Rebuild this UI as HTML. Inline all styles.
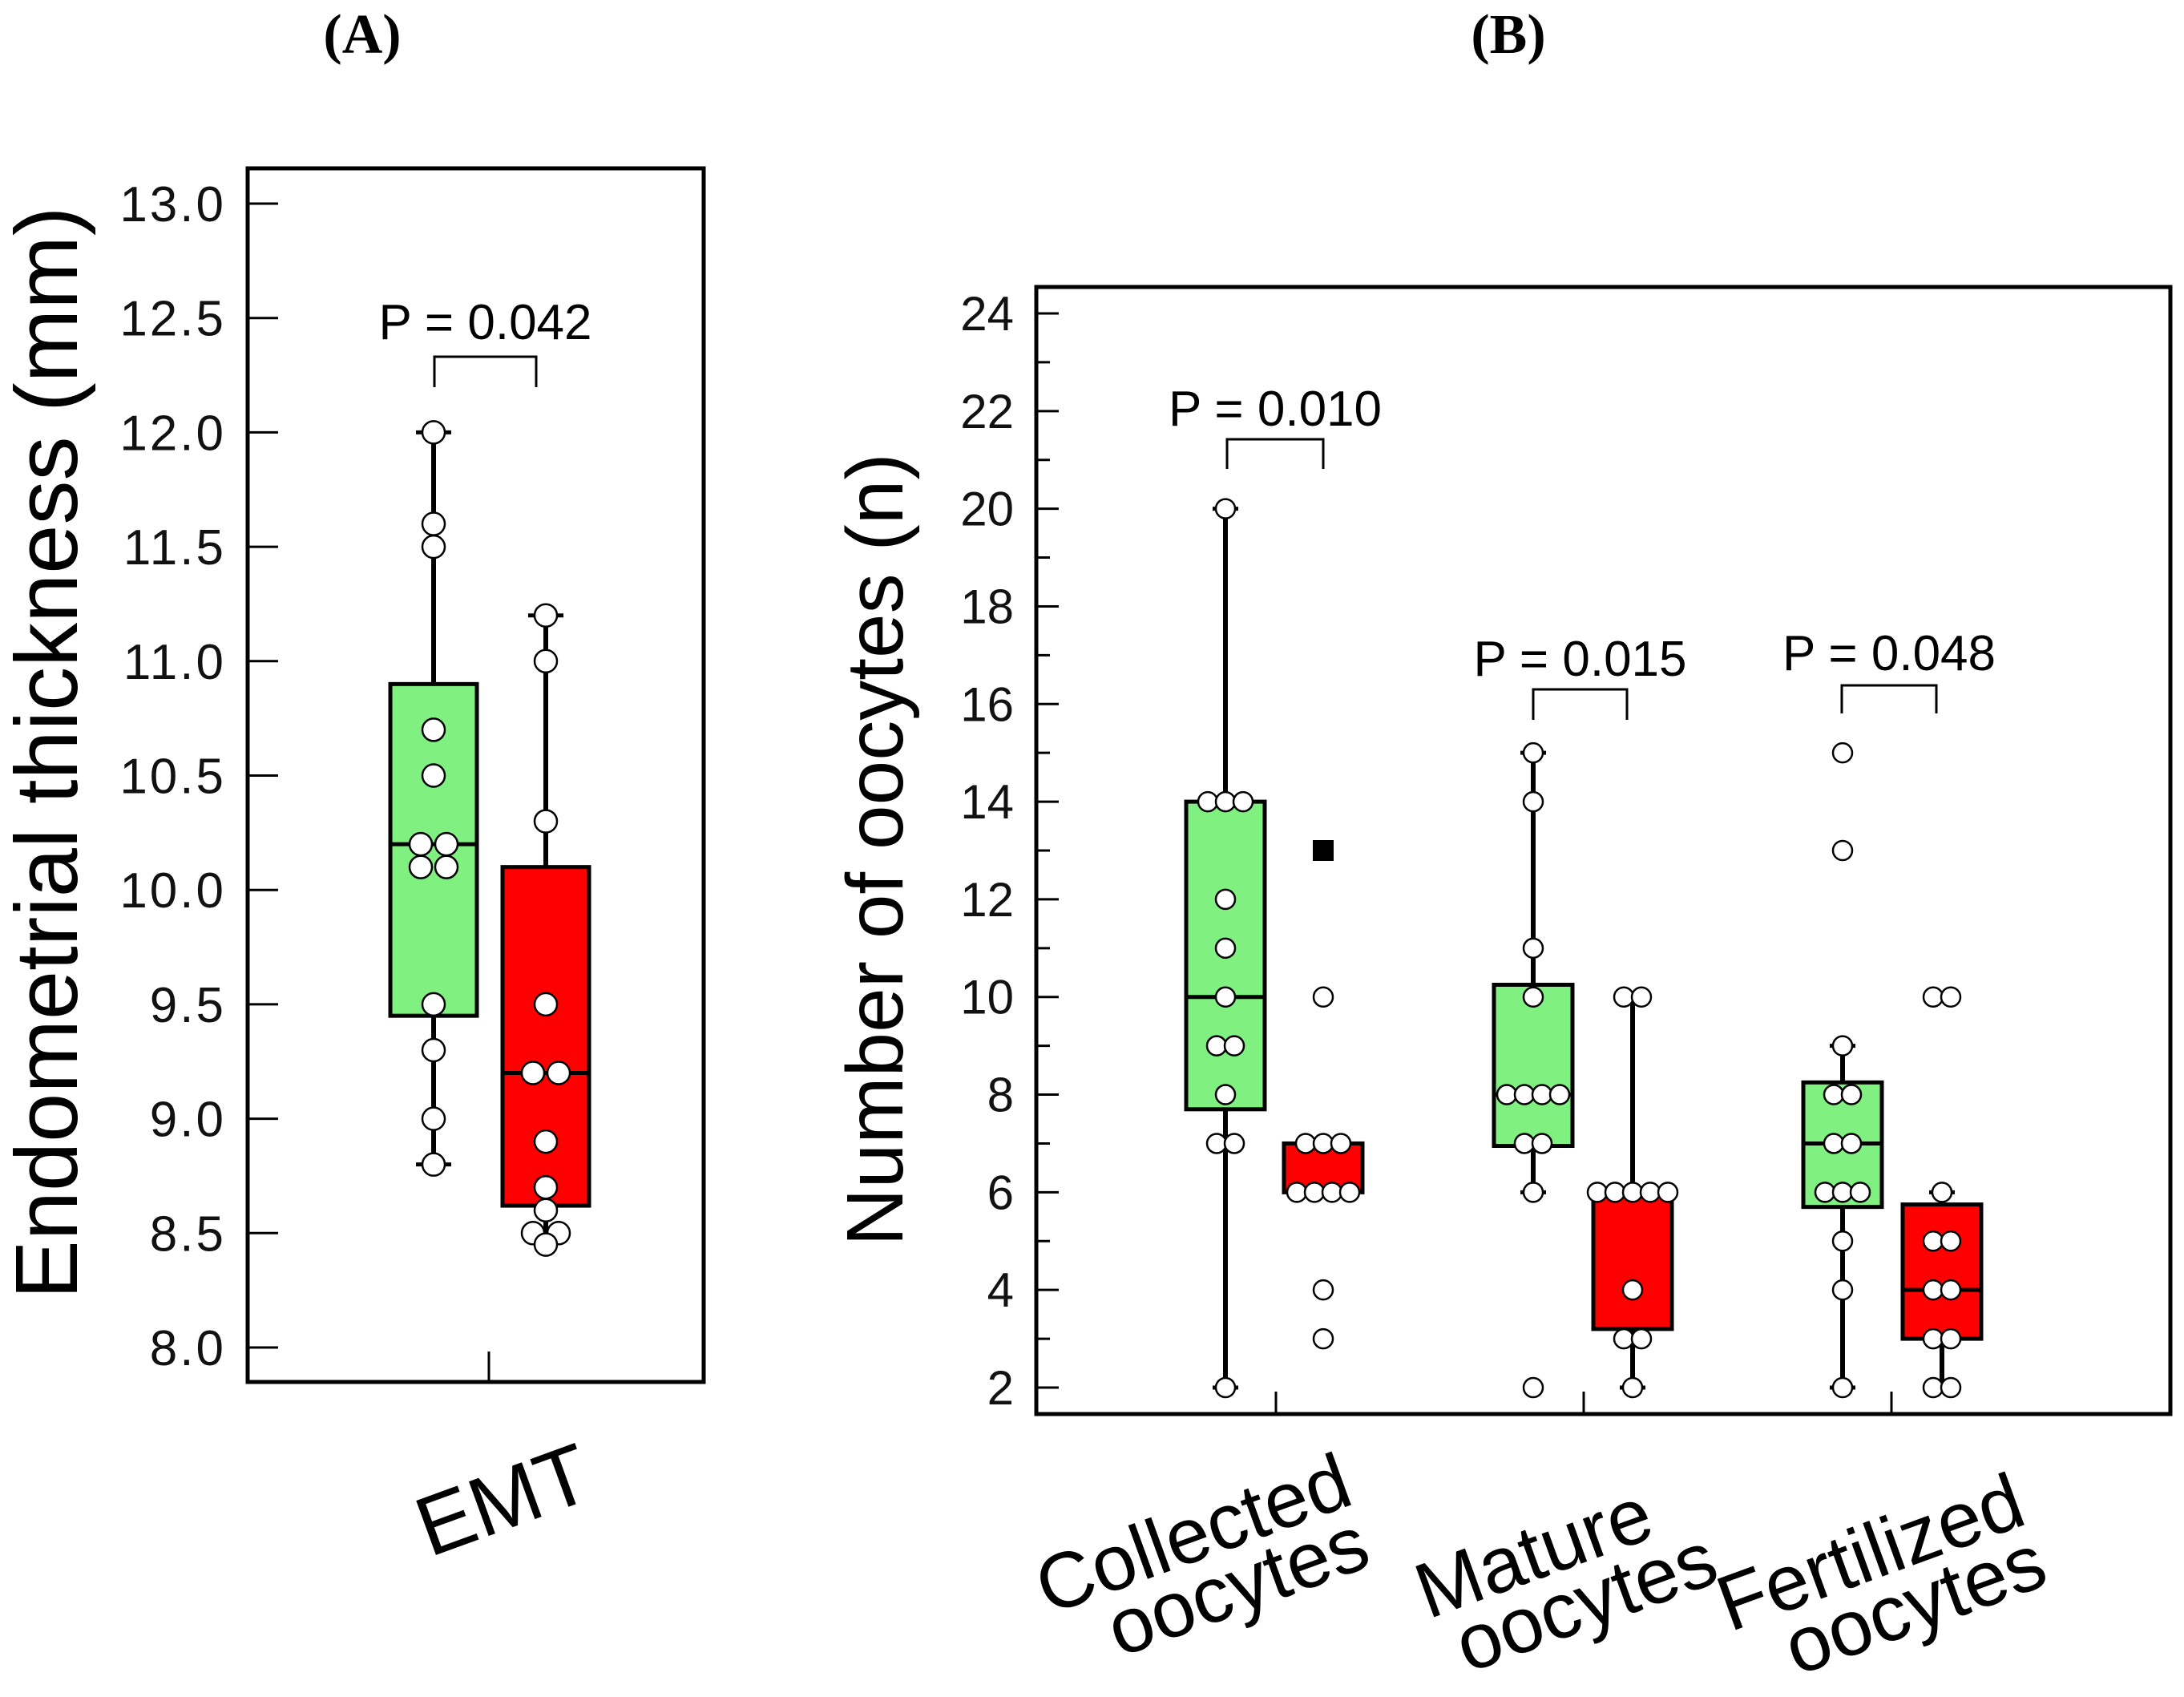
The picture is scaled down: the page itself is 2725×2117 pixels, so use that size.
<!DOCTYPE html>
<html><head><meta charset="utf-8"><style>
html,body{margin:0;padding:0;background:#fff}
svg{display:block}
text{font-family:"Liberation Sans",Arial,sans-serif}
</style></head><body>
<svg id="chart" width="2725" height="2117" viewBox="0 0 2725 2117" xmlns="http://www.w3.org/2000/svg">
<text x="452" y="66" text-anchor="middle" font-size="70" font-weight="bold" style="font-family:'Liberation Serif',serif">(A)</text>
<text x="1882" y="66" text-anchor="middle" font-size="70" font-weight="bold" style="font-family:'Liberation Serif',serif">(B)</text>
<rect x="309" y="210" width="569" height="1514" fill="none" stroke="#000" stroke-width="5"/>
<rect x="1293" y="358" width="1415" height="1406" fill="none" stroke="#000" stroke-width="5"/>
<text transform="translate(96,939) rotate(-90)" text-anchor="middle" font-size="110">Endometrial thickness (mm)</text>
<text transform="translate(1126,1060) rotate(-90)" text-anchor="middle" font-size="100">Number of oocytes (n)</text>
<text transform="translate(640,1905) rotate(-20)" text-anchor="middle" font-size="105">EMT</text>
<g transform="translate(1500,1945) rotate(-20)" font-size="98" text-anchor="middle"><text x="0" y="0">Collected</text><text x="30" y="80">oocytes</text></g>
<g transform="translate(1925,1968) rotate(-20)" font-size="98" text-anchor="middle"><text x="0" y="0">Mature</text><text x="40" y="80">oocytes</text></g>
<g transform="translate(2345,1968) rotate(-20)" font-size="98" text-anchor="middle"><text x="0" y="0">Fertilized</text><text x="30" y="80">oocytes</text></g>
<line x1="610" y1="1724" x2="610" y2="1686" stroke="#000" stroke-width="3"/>
<line x1="1592" y1="1764" x2="1592" y2="1736" stroke="#000" stroke-width="3"/>
<line x1="1976" y1="1764" x2="1976" y2="1736" stroke="#000" stroke-width="3"/>
<line x1="2360" y1="1764" x2="2360" y2="1736" stroke="#000" stroke-width="3"/>
</svg>
<script>
// Panel A data
const aTicks = [8.0,8.5,9.0,9.5,10.0,10.5,11.0,11.5,12.0,12.5,13.0];
const aGroups = ['emt-group-1','emt-group-2'];
const aStats = [ {lo:8.8,q1:9.45,med:10.2,q3:10.9,hi:12.0}, {lo:8.5,q1:8.62,med:9.2,q3:10.1,hi:11.2} ];
const aPoints1 = [12.0,11.6,11.5,10.7,10.5,10.2,10.2,10.1,10.1,9.5,9.3,9.0,8.8];
const aPoints2 = [11.2,11.0,10.3,9.5,9.2,9.2,8.9,8.7,8.6,8.5,8.5,8.45];
const aPvals = ['P = 0.042'];
// Panel B data
const bTicks = [2,4,6,8,10,12,14,16,18,20,22,24];
const bCategories = ['collected','mature','fertilized'];
const bGreen = [ {lo:2,q1:7.7,med:10,q3:14,hi:20}, {lo:6,q1:6.95,med:8,q3:10.25,hi:15}, {lo:2,q1:5.7,med:7,q3:8.25,hi:9} ];
const bRed = [ {lo:6,q1:6,med:null,q3:7,hi:7}, {lo:2,q1:3.2,med:6,q3:6,hi:10}, {lo:2,q1:3,med:4,q3:5.75,hi:6} ];
const bGreenPts = [ [20,14,14,14,12,11,10,9,9,8,7,7,2], [15,14,11,10,8,8,8,8,7,7,6,2], [15,13,9,8,8,7,7,6,6,6,5,4,2] ];
const bRedPts = [ [10,7,7,7,6,6,6,6,4,3], [10,10,6,6,6,6,6,4,3,3,2], [10,10,6,5,5,4,4,3,3,2,2] ];
const bOutliers = [13, null, null];
const bPvals = ['P = 0.010','P = 0.015','P = 0.048'];

const NS='http://www.w3.org/2000/svg';
const svg=document.getElementById('chart');
function mk(tag,attrs,parent){const e=document.createElementNS(NS,tag);for(const k in attrs)e.setAttribute(k,attrs[k]);(parent||svg).appendChild(e);return e;}
const yA=v=>254+(13-v)*(1681-254)/5;
const yB=v=>1731-(v-2)*(1731-391)/22;

aTicks.forEach(t=>{
  const l=mk('line',{x1:309,x2:347,y1:yA(t),y2:yA(t),stroke:'#000','stroke-width':3});
  
  
  const tx=mk('text',{x:282,y:yA(t)+22,'text-anchor':'end','font-size':62,'letter-spacing':3,fill:'#111'});
  tx.textContent=t.toFixed(1);
  
  
});
for(let v=2;v<=24;v++){
  const major=v%2===0;
  const l=mk('line',{x1:1293,x2:1293+(major?28:17),y1:yB(v),y2:yB(v),stroke:'#000','stroke-width':3});
  
  
}
bTicks.forEach(t=>{
  const tx=mk('text',{x:1265,y:yB(t)+21,'text-anchor':'end','font-size':60,fill:'#111'});
  tx.textContent=t;
  
  
});

function drawBox(st,cx,hw,ys,fill,name,whW){
  const g=mk('g',{});
  
  
  if(st.hi>st.q3||st.lo<st.q1){
    mk('line',{x1:cx,x2:cx,y1:ys(st.hi),y2:ys(st.lo),stroke:'#000','stroke-width':6},g);
    mk('line',{x1:cx-whW,x2:cx+whW,y1:ys(st.hi),y2:ys(st.hi),stroke:'#000','stroke-width':5},g);
    mk('line',{x1:cx-whW,x2:cx+whW,y1:ys(st.lo),y2:ys(st.lo),stroke:'#000','stroke-width':5},g);
  }
  mk('rect',{x:cx-hw,y:ys(st.q3),width:2*hw,height:ys(st.q1)-ys(st.q3),fill:fill,stroke:'#000','stroke-width':5},g);
  if(st.med!==null) mk('line',{x1:cx-hw,x2:cx+hw,y1:ys(st.med),y2:ys(st.med),stroke:'#000','stroke-width':5},g);
  return g;
}
function drawPts(pts,cx,ys,r,sp,name){
  const counts={};pts.forEach(p=>counts[p]=(counts[p]||0)+1);
  const idx={};
  pts.forEach(p=>{
    const n=counts[p];const i=idx[p]=(idx[p]===undefined?0:idx[p]+1);
    const x=cx+(i-(n-1)/2)*sp;
    const c=mk('circle',{cx:x,cy:ys(p),r:r,fill:'#fff',stroke:'#000','stroke-width':2.5});
    
    
  });
}
function bracket(x1,x2,yTop,yBot,label,ty,name){
  const g=mk('g',{});
  
  
  mk('path',{d:`M${x1},${yBot} V${yTop} H${x2} V${yBot}`,fill:'none',stroke:'#000','stroke-width':3},g);
  const t=mk('text',{x:(x1+x2)/2,y:ty,'text-anchor':'middle','font-size':62},g);
  t.textContent=label;
}
const aCx=[541,681];
drawBox(aStats[0],aCx[0],54,yA,'#80f080','box-a-green',22);
drawBox(aStats[1],aCx[1],54,yA,'#ff0000','box-a-red',22);
drawPts(aPoints1,aCx[0],yA,14,32,'point-a-green');
drawPts(aPoints2,aCx[1],yA,14,32,'point-a-red');
bracket(542,669,445,483,aPvals[0],423,'p-value-a');
const gCx=[1529,1913,2299], rCx=[1651,2037,2423];
bCategories.forEach((c,i)=>{
  drawBox(bGreen[i],gCx[i],49,yB,'#80f080','box-'+c+'-green',16);
  drawBox(bRed[i],rCx[i],49,yB,'#ff0000','box-'+c+'-red',16);
  drawPts(bGreenPts[i],gCx[i],yB,12,22,'point-'+c+'-green');
  drawPts(bRedPts[i],rCx[i],yB,12,22,'point-'+c+'-red');
  if(bOutliers[i]!==null){
    const s=mk('rect',{x:rCx[i]-13,y:yB(bOutliers[i])-13,width:26,height:26,fill:'#000'});
    
    
  }
});
bracket(1531,1651,548,585,bPvals[0],531,'p-value-collected');
bracket(1913,2030,860,898,bPvals[1],843,'p-value-mature');
bracket(2298,2416,855,890,bPvals[2],836,'p-value-fertilized');
</script>
</body></html>
